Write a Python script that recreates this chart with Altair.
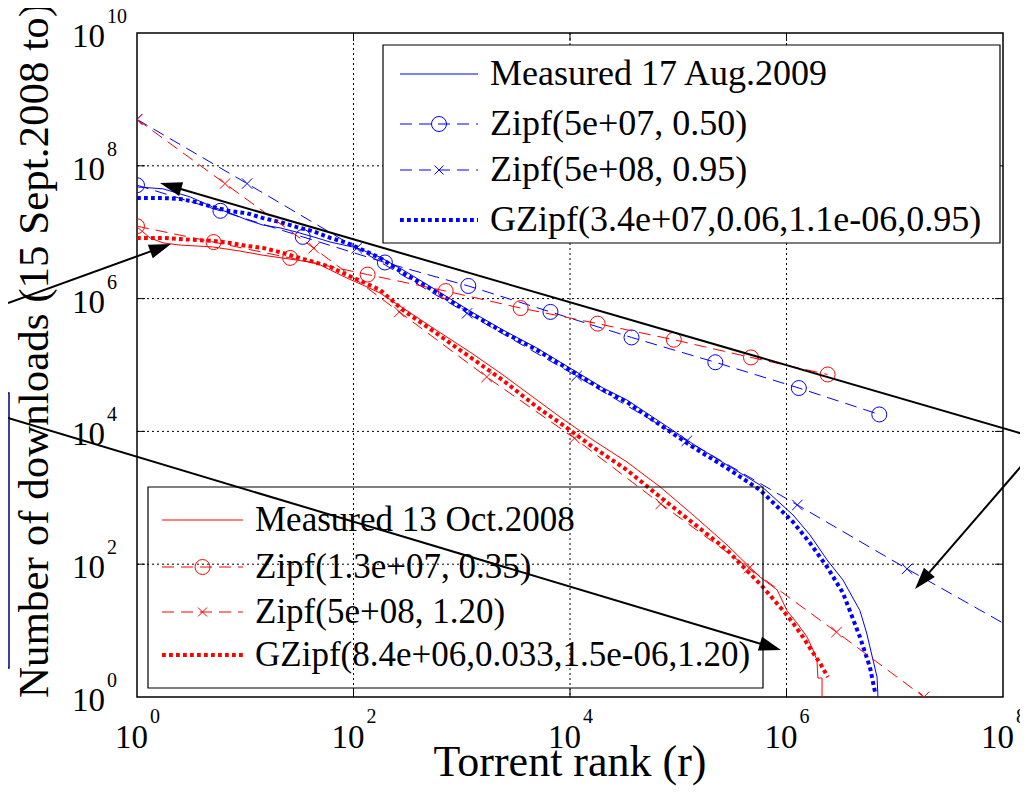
import math
import altair as alt
import pandas as pd

# ---------------- data (rank r, downloads d) ----------------
# Measured 17 Aug.2009 (blue solid)
aug_meas_r = [1, 1.74, 3.1, 5.0, 7.2, 10.4, 14.6, 21, 30, 46, 61, 108, 176, 287, 578, 1190, 2400,
              4950, 1.0e4, 2.02e4, 3.36e4, 6.8e4, 1.37e5, 2.82e5, 5.7e5, 1.15e6, 1.65e6, 2.37e6,
              3.32e6, 4.77e6, 5.5e6, 6.3e6, 6.86e6, 7.0e6]
aug_meas_d = [4.8e7, 4.5e7, 3.4e7, 2.4e7, 1.95e7, 1.53e7, 1.28e7, 1.16e7, 1.0e7, 8.2e6, 7.1e6, 5.8e6,
              4.2e6, 2.7e6, 1.35e6, 6.5e5, 3.37e5, 1.8e5, 9.0e4, 4.5e4, 2.97e4, 1.39e4, 6460, 3120,
              1560, 551, 275, 116, 58, 20, 9.2, 3.6, 2, 1]
# GZipf(3.4e+07,0.06,1.1e-06,0.95) (blue dotted)
aug_gz_r = [1, 1.74, 2.5, 3.5, 5.0, 7.2, 10.4, 14.6, 21, 30, 42, 61, 87, 122, 176, 287, 578, 1190,
            2400, 4950, 1.0e4, 2.02e4, 3.36e4, 6.8e4, 1.37e5, 2.82e5, 5.7e5, 1.15e6, 1.65e6, 2.37e6,
            3.32e6, 4.77e6, 5.9e6, 6.6e6]
aug_gz_d = [3.27e7, 3.27e7, 3.16e7, 2.85e7, 2.4e7, 2.08e7, 1.93e7, 1.63e7, 1.42e7, 1.19e7, 1.04e7,
            8.2e6, 6.9e6, 5.4e6, 4.1e6, 2.43e6, 1.26e6, 6.1e5, 3.14e5, 1.68e5, 8.4e4, 4.2e4, 2.77e4,
            1.25e4, 5800, 2810, 1310, 432, 208, 91, 37, 8, 2.8, 1.15]
# Zipf(5e+07, 0.50) (blue dashed, circles)
aug_z050_r = [1, 5.9, 34, 195, 1150, 6600, 3.7e4, 2.2e5, 1.3e6, 7.2e6]
aug_z050_d = [5.1e7, 2.1e7, 8.5e6, 3.5e6, 1.55e6, 6.3e5, 2.6e5, 1.1e5, 4.5e4, 1.8e4]
# Zipf(5e+08, 0.95) (blue dashed, crosses)
aug_z095_r = [1, 10.4, 107, 1120, 1.15e4, 1.2e5, 1.26e6, 1.3e7, 1e8]
aug_z095_d = [5e8, 5.4e7, 5.75e6, 6.0e5, 6.8e4, 7.2e3, 780, 85, 13]
aug_z095_mark = [1, 1, 1, 1, 1, 1, 1, 1, 0]

# Measured 13 Oct.2008 (red solid)
oct_meas_r = [1, 1.32, 1.74, 2.5, 5.0, 8.9, 14.6, 30, 46, 61, 87, 122, 176, 287, 578, 1190, 2400,
              4950, 8090, 1.63e4, 3.36e4, 6.8e4, 1.37e5, 2.82e5, 5.7e5, 8.2e5, 1.01e6, 1.25e6,
              1.55e6, 1.76e6, 1.91e6, 1.95e6, 2.13e6, 2.13e6]
oct_meas_d = [1.2e7, 8.2e6, 6.9e6, 6.4e6, 6.0e6, 5.2e6, 4.5e6, 3.8e6, 3.4e6, 2.7e6, 2.04e6, 1.6e6,
              1.21e6, 7.2e5, 3.37e5, 1.57e5, 7.1e4, 2.97e4, 1.65e4, 7400, 3460, 1460, 551, 195, 64,
              41, 20, 13, 8, 5.1, 3.6, 1.93, 1.93, 1]
# GZipf(8.4e+06,0.033,1.5e-06,1.20) (red dotted)
oct_gz_r = [1, 1.74, 2.5, 3.6, 5.0, 7.2, 10.4, 14.6, 21, 30, 42, 61, 87, 122, 176, 287, 578, 1190,
            2400, 4950, 8090, 1.63e4, 3.36e4, 6.8e4, 1.37e5, 2.82e5, 6.07e5, 9.3e5, 1.15e6, 1.42e6,
            1.76e6, 2.04e6, 2.41e6]
oct_gz_d = [8.2e6, 8.2e6, 7.9e6, 7.6e6, 7.4e6, 6.9e6, 6.2e6, 5.8e6, 5.0e6, 4.2e6, 3.6e6, 3.0e6,
            2.27e6, 1.78e6, 1.35e6, 6.7e5, 3.03e5, 1.32e5, 5.9e4, 2.33e4, 1.34e4, 5800, 2620, 1030,
            417, 164, 45, 20, 13, 8, 4.6, 3.25, 2.0]
# Zipf(1.3e+07, 0.35) (red dashed, circles)
oct_z035_r = [1, 5.1, 26, 135, 710, 3500, 1.8e4, 9.1e4, 4.7e5, 2.4e6]
oct_z035_d = [1.23e7, 7.1e6, 4.1e6, 2.3e6, 1.3e6, 7.2e5, 4.2e5, 2.4e5, 1.3e5, 7.2e4]
# Zipf(5e+08, 1.20) (red dashed, crosses)
oct_z120_r = [1, 6.5, 43, 265, 1700, 1.1e4, 6.9e4, 4.5e5, 2.9e6, 1.86e7]
oct_z120_d = [5e8, 5.4e7, 5.75e6, 6.3e5, 6.6e4, 7.9e3, 810, 87, 9.5, 1]

aug_labels = ["Measured 17 Aug.2009", "Zipf(5e+07, 0.50)", "Zipf(5e+08, 0.95)",
              "GZipf(3.4e+07,0.06,1.1e-06,0.95)"]
oct_labels = ["Measured 13 Oct.2008", "Zipf(1.3e+07, 0.35)", "Zipf(5e+08, 1.20)",
              "GZipf(8.4e+06,0.033,1.5e-06,1.20)"]

x_ticks = [1, 1e2, 1e4, 1e6, 1e8]
x_exps = ["0", "2", "4", "6", "8"]
y_ticks = [1, 1e2, 1e4, 1e6, 1e8, 1e10]
y_exps = ["0", "2", "4", "6", "8", "10"]
x_title = "Torrent rank (r)"
y_title = "Number of downloads (15 Sept.2008 to)"

# ---------------- styling ----------------
W, H = 866, 664
FONT = "Liberation Serif"
BLUE, RED, NAVY = "#0000ff", "#ff0000", "#000080"
xs = alt.Scale(type="log", domain=[1, 1e8])
ys = alt.Scale(type="log", domain=[1, 1e10])
XSHAPE = "M-1,-1L1,1M-1,1L1,-1"
STYLE = {
    "solid": dict(strokeWidth=1),
    "dash": dict(strokeWidth=1, strokeDash=[12, 7]),
    "dot": dict(strokeWidth=4, strokeDash=[3.8, 3.2], strokeCap="butt"),
}


def frame(r, d, extra=None):
    data = {"r": r, "d": d, "i": list(range(len(r)))}
    if extra:
        data.update(extra)
    return pd.DataFrame(data)


def series(r, d, color, style):
    return alt.Chart(frame(r, d)).mark_line(color=color, clip=True, **STYLE[style]).encode(
        x=alt.X("r:Q", scale=xs, axis=None),
        y=alt.Y("d:Q", scale=ys, axis=None),
        order="i:Q",
    )


def markers(df, color, kind):
    if kind == "o":
        m = alt.Chart(df).mark_point(shape="circle", filled=False, size=225, color=color,
                                     strokeWidth=1, opacity=1, clip=True)
    else:
        m = alt.Chart(df).mark_point(shape=XSHAPE, filled=False, size=110, color=color,
                                     strokeWidth=1, opacity=1, clip=True)
    return m.encode(x=alt.X("r:Q", scale=xs, axis=None), y=alt.Y("d:Q", scale=ys, axis=None))


layers = []

# grid (dotted) and inward ticks
gx = pd.DataFrame({"v": x_ticks[1:-1]})
gy = pd.DataFrame({"v": y_ticks[1:-1]})
grid_kw = dict(color="black", strokeWidth=1, strokeDash=[2, 3])
layers.append(alt.Chart(gx).mark_rule(**grid_kw).encode(
    x=alt.X("v:Q", scale=xs, axis=None), y=alt.value(0), y2=alt.value(H)))
layers.append(alt.Chart(gy).mark_rule(**grid_kw).encode(
    y=alt.Y("v:Q", scale=ys, axis=None), x=alt.value(0), x2=alt.value(W)))
for a, b in [(H, H - 8), (0, 8)]:
    layers.append(alt.Chart(gx).mark_rule(color="black", strokeWidth=1).encode(
        x=alt.X("v:Q", scale=xs, axis=None), y=alt.value(a), y2=alt.value(b)))
for a, b in [(0, 8), (W, W - 8)]:
    layers.append(alt.Chart(gy).mark_rule(color="black", strokeWidth=1).encode(
        y=alt.Y("v:Q", scale=ys, axis=None), x=alt.value(a), x2=alt.value(b)))

# data series
layers += [
    series(aug_meas_r, aug_meas_d, BLUE, "solid"),
    series(aug_z050_r, aug_z050_d, BLUE, "dash"),
    markers(frame(aug_z050_r, aug_z050_d), BLUE, "o"),
    series(aug_z095_r, aug_z095_d, BLUE, "dash"),
    markers(frame(aug_z095_r, aug_z095_d, {"m": aug_z095_mark}).query("m == 1"), BLUE, "x"),
    series(aug_gz_r, aug_gz_d, BLUE, "dot"),
    series(oct_meas_r, oct_meas_d, RED, "solid"),
    series(oct_z035_r, oct_z035_d, RED, "dash"),
    markers(frame(oct_z035_r, oct_z035_d), RED, "o"),
    series(oct_z120_r, oct_z120_d, RED, "dash"),
    markers(frame(oct_z120_r, oct_z120_d), RED, "x"),
    series(oct_gz_r, oct_gz_d, RED, "dot"),
]

# tick labels 10^n
xl = pd.DataFrame({"v": x_ticks, "e": x_exps, "b": ["10"] * len(x_ticks)})
yl = pd.DataFrame({"v": y_ticks, "e": y_exps, "b": ["10"] * len(y_ticks)})
layers.append(alt.Chart(xl).mark_text(font=FONT, fontSize=33, align="right", baseline="alphabetic",
                                      dx=11, color="black").encode(
    x=alt.X("v:Q", scale=xs, axis=None), y=alt.value(H + 51), text="b:N"))
layers.append(alt.Chart(xl).mark_text(font=FONT, fontSize=20, align="left", baseline="alphabetic",
                                      dx=13, color="black").encode(
    x=alt.X("v:Q", scale=xs, axis=None), y=alt.value(H + 26), text="e:N"))
layers.append(alt.Chart(yl).mark_text(font=FONT, fontSize=33, align="right", baseline="alphabetic",
                                      dy=14, color="black").encode(
    y=alt.Y("v:Q", scale=ys, axis=None), x=alt.value(-32), text="b:N"))
layers.append(alt.Chart(yl).mark_text(font=FONT, fontSize=20, align="left", baseline="alphabetic",
                                      dy=-10, color="black").encode(
    y=alt.Y("v:Q", scale=ys, axis=None), x=alt.value(-30), text="e:N"))

# axis titles
layers.append(alt.Chart(pd.DataFrame({"t": [x_title]})).mark_text(
    font=FONT, fontSize=44, align="center", baseline="alphabetic", color="black").encode(
    x=alt.value(433), y=alt.value(743), text="t:N"))
layers.append(alt.Chart(pd.DataFrame({"t": [y_title]})).mark_text(
    font=FONT, fontSize=43, align="left", baseline="alphabetic", angle=270, color="black").encode(
    x=alt.value(-89), y=alt.value(665), text="t:N"))


# legends
def legend(labels, color, box, x0, x1, tx, rows, fsize, fill):
    out = []
    bx0, bx1, by0, by1 = box
    rect_kw = dict(stroke="black", strokeWidth=1.2)
    if fill:
        rect_kw["fill"] = "white"
    else:
        rect_kw["fillOpacity"] = 0
    base = alt.Chart(pd.DataFrame({"k": [0]}))
    out.append(base.mark_rect(**rect_kw).encode(
        x=alt.value(bx0), x2=alt.value(bx1), y=alt.value(by0), y2=alt.value(by1)))
    styles = ["solid", "dash", "dash", "dot"]
    for lab, yy, st in zip(labels, rows, styles):
        out.append(base.mark_rule(color=color, **STYLE[st]).encode(
            x=alt.value(x0), x2=alt.value(x1), y=alt.value(yy)))
    xm = (x0 + x1) / 2
    out.append(base.mark_point(shape="circle", filled=False, size=225, color=color,
                               strokeWidth=1, opacity=1).encode(x=alt.value(xm), y=alt.value(rows[1])))
    out.append(base.mark_point(shape=XSHAPE, filled=False, size=80, color=color,
                               strokeWidth=1, opacity=1).encode(x=alt.value(xm), y=alt.value(rows[2])))
    tdf = pd.DataFrame({"label": labels, "py": rows})
    out.append(alt.Chart(tdf).mark_text(font=FONT, fontSize=fsize, align="left", baseline="middle",
                                        color="black").encode(
        x=alt.value(tx), y=alt.Y("py:Q", scale=None), text="label:N"))
    return out


# annotation arrows (page pixels, converted to plot-area pixels)
OX, OY = 137, 33
arrows = [((1030, 436), (160, 183)), ((8, 303), (171, 244)),
          ((8, 418), (781, 650)), ((1030, 456), (915, 589))]
arrow_layers = []
base = alt.Chart(pd.DataFrame({"k": [0]}))
# navy box at far left
arrow_layers.append(base.mark_rect(stroke=NAVY, strokeWidth=1.5, fillOpacity=0).encode(
    x=alt.value(-160), x2=alt.value(9 - OX), y=alt.value(393 - OY), y2=alt.value(668 - OY)))
for (sx, sy), (tx, ty) in arrows:
    ang = math.degrees(math.atan2(ty - sy, tx - sx)) % 360
    bx = tx - 18 * math.cos(math.radians(ang))
    by = ty - 18 * math.sin(math.radians(ang))
    arrow_layers.append(base.mark_rule(color="black", strokeWidth=2).encode(
        x=alt.value(sx - OX), y=alt.value(sy - OY), x2=alt.value(bx - OX), y2=alt.value(by - OY)))
    arrow_layers.append(base.mark_point(shape="M0,0L-2,-0.65L-2,0.65Z", filled=True, size=484,
                                        color="black", opacity=1, angle=ang).encode(
        x=alt.value(tx - OX), y=alt.value(ty - OY)))

layers += legend(oct_labels, RED, (11, 626, 454, 655), 25, 106, 118, [487, 534, 579, 622], 35, False)
layers += legend(aug_labels, BLUE, (246, 863, 12, 210), 263, 341, 353, [41, 91, 137, 187], 36, True)
layers += arrow_layers

chart = alt.layer(*layers).properties(
    width=W, height=H,
    autosize=alt.AutoSizeParams(type="none"),
    padding={"left": 129, "top": 25, "right": 17, "bottom": 90},
    background="white",
).configure_view(stroke="black", strokeWidth=1.5)

chart.save("out.html", embed_options={"renderer": "svg", "actions": False})
